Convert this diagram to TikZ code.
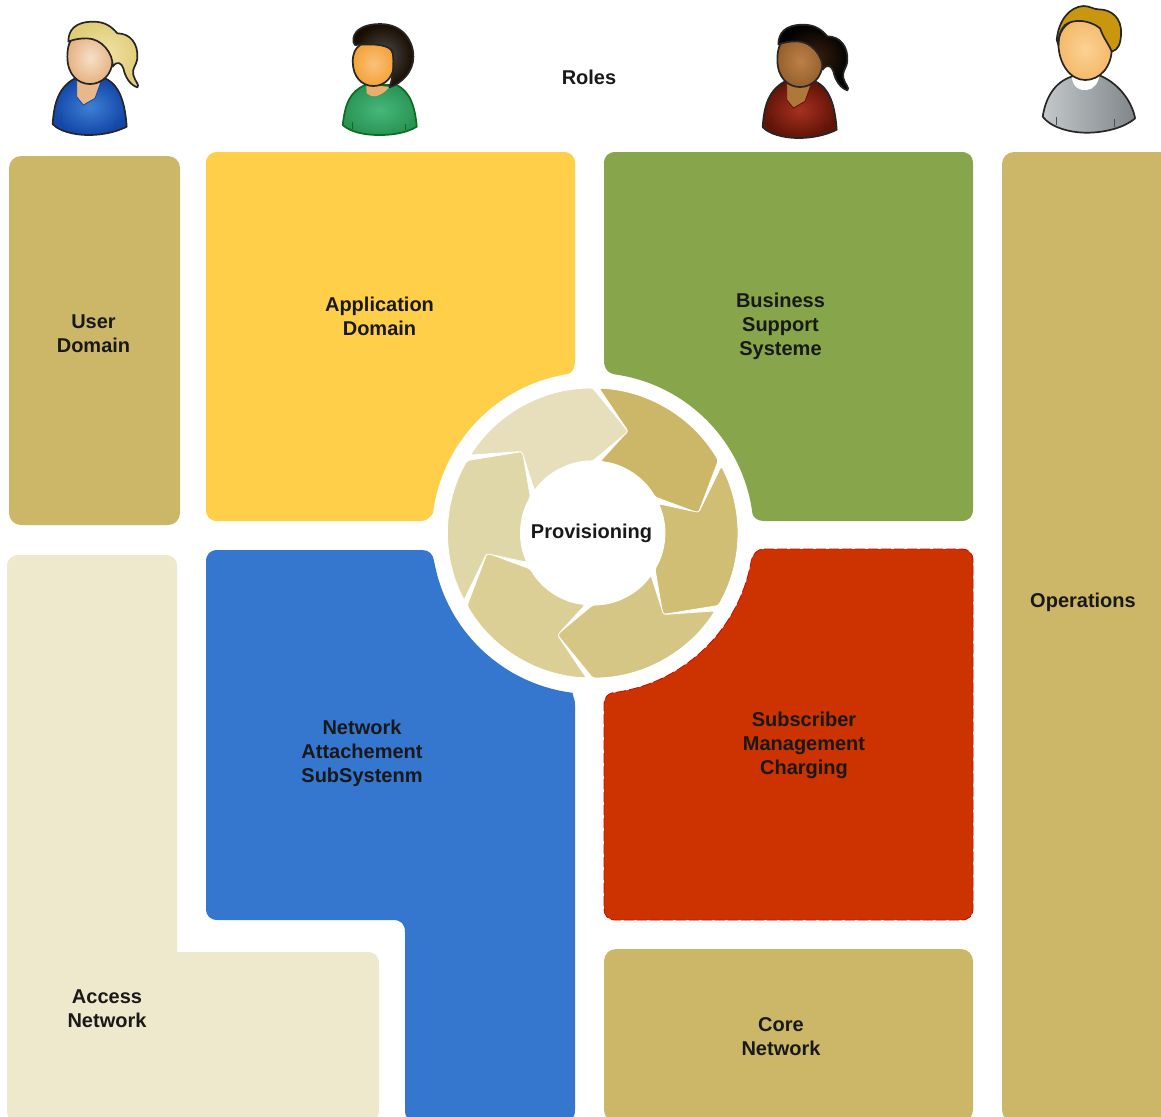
\documentclass[tikz,border=0pt]{standalone}
\usepackage{fontspec}
\setmainfont{Liberation Sans}
\usetikzlibrary{calc}
\definecolor{khaki}{HTML}{CBB767}
\definecolor{cream}{HTML}{EEE8CD}
\definecolor{yel}{HTML}{FFCF4A}
\definecolor{grn}{HTML}{87A54A}
\definecolor{blu}{HTML}{3576CF}
\definecolor{redb}{HTML}{CC3300}
\definecolor{shirtin}{HTML}{46B87A}
\definecolor{shirtout}{HTML}{2A9455}
\definecolor{shirtline}{HTML}{0B6B1E}
\definecolor{faceinA}{HTML}{FBC27A}
\definecolor{faceoutA}{HTML}{F4A238}
\definecolor{neckA}{HTML}{E9AE6E}
\definecolor{faceinB}{HTML}{FBD294}
\definecolor{faceoutB}{HTML}{F5B96A}
\definecolor{hairB}{HTML}{C8960F}
\definecolor{greyin}{HTML}{C4C8CA}
\definecolor{greyout}{HTML}{7F8689}
\tikzset{
  lbl/.style={font=\bfseries\fontsize{10}{12}\selectfont,align=center,text=black!90,inner sep=0pt},
  outl/.style={line width=.85pt,draw=black!85,line join=round},
}
% pony-tail person: #1 x,#2 y,#3 shirt in,#4 shirt out,#5 skin in,#6 skin out,#7 hair in,#8 hair out,#9 neck
\newcommand{\ponyperson}[9]{%
\definecolor{pa}{HTML}{#3}\definecolor{pb}{HTML}{#4}\definecolor{pc}{HTML}{#5}\definecolor{pd}{HTML}{#6}\definecolor{pe}{HTML}{#7}\definecolor{pf}{HTML}{#8}\definecolor{pg}{HTML}{#9}%
\begin{scope}[shift={(#1,#2)},x=.1667pt,y=-.1667pt]
  \path[outl,inner color=pa,outer color=pb] (68,372) .. controls (72,310) and (85,262) .. (135,235) -- (225,235) .. controls (270,255) and (285,310) .. (290,380) .. controls (260,395) and (220,405) .. (175,405) .. controls (130,405) and (85,392) .. (68,372) -- cycle;
  \draw[pb,line width=.5pt] (95,340) -- (95,385) (255,360) -- (255,385);
  \fill[pg] (140,235) -- (140,290) -- (160,315) -- (195,295) -- (215,235) -- cycle;
  \draw[pb,line width=.4pt] (140,240) -- (140,290) -- (160,315) -- (195,295) -- (215,240);
  \path[outl,inner color=pc,outer color=pd] (112,170) .. controls (112,110) and (140,95) .. (180,95) .. controls (225,95) and (250,130) .. (248,180) .. controls (246,225) and (215,252) .. (180,252) .. controls (145,252) and (112,225) .. (112,170) -- cycle;
  \path[outl,inner color=pe,outer color=pf] (115,125) .. controls (115,90) and (135,65) .. (190,65) .. controls (225,65) and (245,80) .. (262,100) .. controls (300,100) and (325,130) .. (322,175) .. controls (318,200) and (305,205) .. (310,225) .. controls (315,245) and (330,255) .. (322,262) .. controls (300,255) and (285,230) .. (280,205) .. controls (275,190) and (262,180) .. (248,200) .. controls (250,160) and (215,115) .. (170,115) .. controls (150,115) and (130,118) .. (115,125) -- cycle;
\end{scope}}
\begin{document}
\begin{tikzpicture}[x=.5pt,y=-.5pt]
\useasboundingbox (0,0) rectangle (1161,1116);
\clip (0,0) rectangle (1161,1116);
\coordinate (c) at (592.7,533);
% blocks
\fill[khaki,rounded corners=6pt] (9,156) rectangle (180,525);
\fill[khaki,rounded corners=6pt] (604,949) rectangle (973,1122);
\fill[khaki,rounded corners=6pt] (1002,152) rectangle (1190,1122);
\fill[cream] (19,555) -- (165,555) .. controls (173,555) and (177,559) .. (177,567) -- (177,952) -- (367,952) .. controls (375,952) and (379,956) .. (379,964) -- (379,1110) .. controls (379,1118) and (375,1122) .. (367,1122) -- (19,1122) .. controls (11,1122) and (7,1118) .. (7,1110) -- (7,567) .. controls (7,559) and (11,555) .. (19,555) -- cycle;
% yellow
\fill[yel] (218,152) -- (563,152) .. controls (571,152) and (575,156) .. (575,164) -- (575,360) .. controls (575,370) and (571,374) .. (566.5,374.2) arc[start angle=260.6,end angle=187,radius=161] .. controls (430,516) and (428,521) .. (421,521) -- (218,521) .. controls (210,521) and (206,517) .. (206,509) -- (206,164) .. controls (206,156) and (210,152) .. (218,152) -- cycle;
% green
\fill[grn] (616,152) -- (961,152) .. controls (969,152) and (973,156) .. (973,164) -- (973,509) .. controls (973,517) and (969,521) .. (961,521) -- (764,521) .. controls (757,521) and (753,517) .. (752.4,513.4) arc[start angle=352.7,end angle=279,radius=161] .. controls (609,374) and (604,370) .. (604,360) -- (604,164) .. controls (604,156) and (608,152) .. (616,152) -- cycle;
% blue
\fill[blu] (218,550) -- (422,550) .. controls (429,550) and (433,554) .. (434.1,561) arc[start angle=170,end angle=97,radius=161] .. controls (571,693) and (575,697) .. (575,705) -- (575,1110) .. controls (575,1118) and (571,1122) .. (563,1122) -- (417,1122) .. controls (409,1122) and (405,1118) .. (405,1110) -- (405,932) .. controls (405,924) and (401,920) .. (393,920) -- (218,920) .. controls (210,920) and (206,916) .. (206,908) -- (206,562) .. controls (206,554) and (210,550) .. (218,550) -- cycle;
% red
\path[fill=redb] (764,549) -- (961,549) .. controls (969,549) and (973,553) .. (973,561) -- (973,908) .. controls (973,916) and (969,920) .. (961,920) -- (616,920) .. controls (608,920) and (604,916) .. (604,908) -- (604,705) .. controls (604,697) and (608,694) .. (612.3,692.8) arc[start angle=83,end angle=9.8,radius=161] .. controls (753,554) and (757,549) .. (764,549) -- cycle;
\draw[red!85!black,line width=.4pt,dash pattern=on 5pt off 1.5pt] (764,549) -- (961,549) .. controls (969,549) and (973,553) .. (973,561) -- (973,908) .. controls (973,916) and (969,920) .. (961,920) -- (616,920) .. controls (608,920) and (604,916) .. (604,908) -- (604,705) .. controls (604,697) and (608,694) .. (612.3,692.8) arc[start angle=83,end angle=9.8,radius=161] .. controls (753,554) and (757,549) .. (764,549) -- cycle;
% ring
\foreach \k/\col in {0/CBB767,1/CFBE73,2/D6C685,3/DBCF96,4/E0D7A9,5/E7DFBB}{
  \definecolor{segc}{HTML}{\col}
  \pgfmathsetmacro{\ro}{\k*60}
  \fill[segc,draw=white,line width=.4pt,line join=round,rounded corners=1.2pt]
    ($(c)+({\ro+2.5-90}:145)$)
    arc[start angle={\ro+2.5-90},end angle={\ro+60-90},radius=145]
    -- ($(c)+({\ro+79.3-90}:107.5)$)
    -- ($(c)+({\ro+60-90}:72)$)
    arc[start angle={\ro+60-90},end angle={\ro+6-90},radius=72]
    -- ($(c)+({\ro+19-90}:108)$)
    -- cycle;
}
% people
\ponyperson{30}{0}{3E80D4}{1347A8}{F6E0C8}{E6B282}{F0E4A8}{E0CC78}{E8B888}
\ponyperson{740}{3}{A83020}{601408}{BC8048}{96602C}{3A2010}{000000}{B07838}
% green person
\begin{scope}[shift={(30,0)},x=.1667pt,y=-.1667pt]
  \path[outl,draw=shirtline,inner color=shirtin,outer color=shirtout] (938,375) .. controls (945,310) and (960,275) .. (1005,255) -- (1100,255) .. controls (1140,275) and (1155,320) .. (1160,380) .. controls (1130,398) and (1090,405) .. (1048,405) .. controls (1000,405) and (960,395) .. (938,375) -- cycle;
  \draw[shirtline,line width=.4pt] (968,365) -- (968,388) (1125,372) -- (1125,390);
  \fill[neckA] (1008,250) -- (1010,280) .. controls (1025,295) and (1050,292) .. (1078,262) -- cycle;
  \path[outl,inner color=faceinA,outer color=faceoutA] (968,185) .. controls (968,135) and (1000,125) .. (1035,125) .. controls (1075,125) and (1092,150) .. (1092,190) .. controls (1092,230) and (1065,258) .. (1030,258) .. controls (995,258) and (968,230) .. (968,185) -- cycle;
  \path[outl,inner color=black!70,outer color=black!90!orange] (970,115) .. controls (975,85) and (1010,72) .. (1050,72) .. controls (1120,72) and (1150,125) .. (1150,170) .. controls (1150,215) and (1115,250) .. (1078,262) .. controls (1090,230) and (1092,190) .. (1088,155) .. controls (1075,135) and (1040,130) .. (975,135) .. controls (970,130) and (968,122) .. (970,115) -- cycle;
\end{scope}
% grey person
\begin{scope}[shift={(740,0)},x=.1667pt,y=-.1667pt]
  \path[outl,left color=greyin,right color=greyout] (908,350) .. controls (915,300) and (940,245) .. (1000,228) -- (1075,225) .. controls (1130,245) and (1175,300) .. (1185,355) .. controls (1150,385) and (1090,398) .. (1040,398) .. controls (985,398) and (930,380) .. (908,350) -- cycle;
  \draw[black!70,line width=.4pt] (948,350) -- (948,375) (1122,358) -- (1122,382);
  \fill[white] (995,232) .. controls (1000,265) and (1020,272) .. (1040,270) .. controls (1060,268) and (1075,250) .. (1078,226) -- cycle;
  \path[outl,inner color=faceinB,outer color=faceoutB] (955,130) .. controls (955,85) and (990,55) .. (1035,55) .. controls (1085,55) and (1115,95) .. (1115,145) .. controls (1115,200) and (1080,240) .. (1035,240) .. controls (990,240) and (955,190) .. (955,130) -- cycle;
  \path[outl,fill=hairB] (950,120) .. controls (955,60) and (990,20) .. (1030,18) .. controls (1050,18) and (1060,28) .. (1075,28) .. controls (1115,28) and (1145,55) .. (1143,100) .. controls (1142,130) and (1135,150) .. (1115,155) .. controls (1105,130) and (1090,115) .. (1080,85) .. controls (1050,60) and (1000,55) .. (975,75) .. controls (960,90) and (955,110) .. (955,135) -- cycle;
\end{scope}
% labels
\node[lbl] (roles) at (589,77.5) {Roles};
\node[lbl] (user) at (93.5,334) {User\\Domain};
\node[lbl] (app) at (379.5,316.5) {Application\\Domain};
\node[lbl] (bss) at (780.5,326.5) {Business\\Support\\Systeme};
\node[lbl] (prov) at (591.5,533.5) {Provisioning};
\node[lbl] (ops) at (1083,602.5) {Operations};
\node[lbl] (nass) at (362,753.5) {Network\\Attachement\\SubSystenm};
\node[lbl] (smc) at (804,745) {Subscriber\\Management\\Charging};
\node[lbl] (access) at (107,1009) {Access\\Network};
\node[lbl] (core) at (781,1037) {Core\\Network};
\end{tikzpicture}
\end{document}
